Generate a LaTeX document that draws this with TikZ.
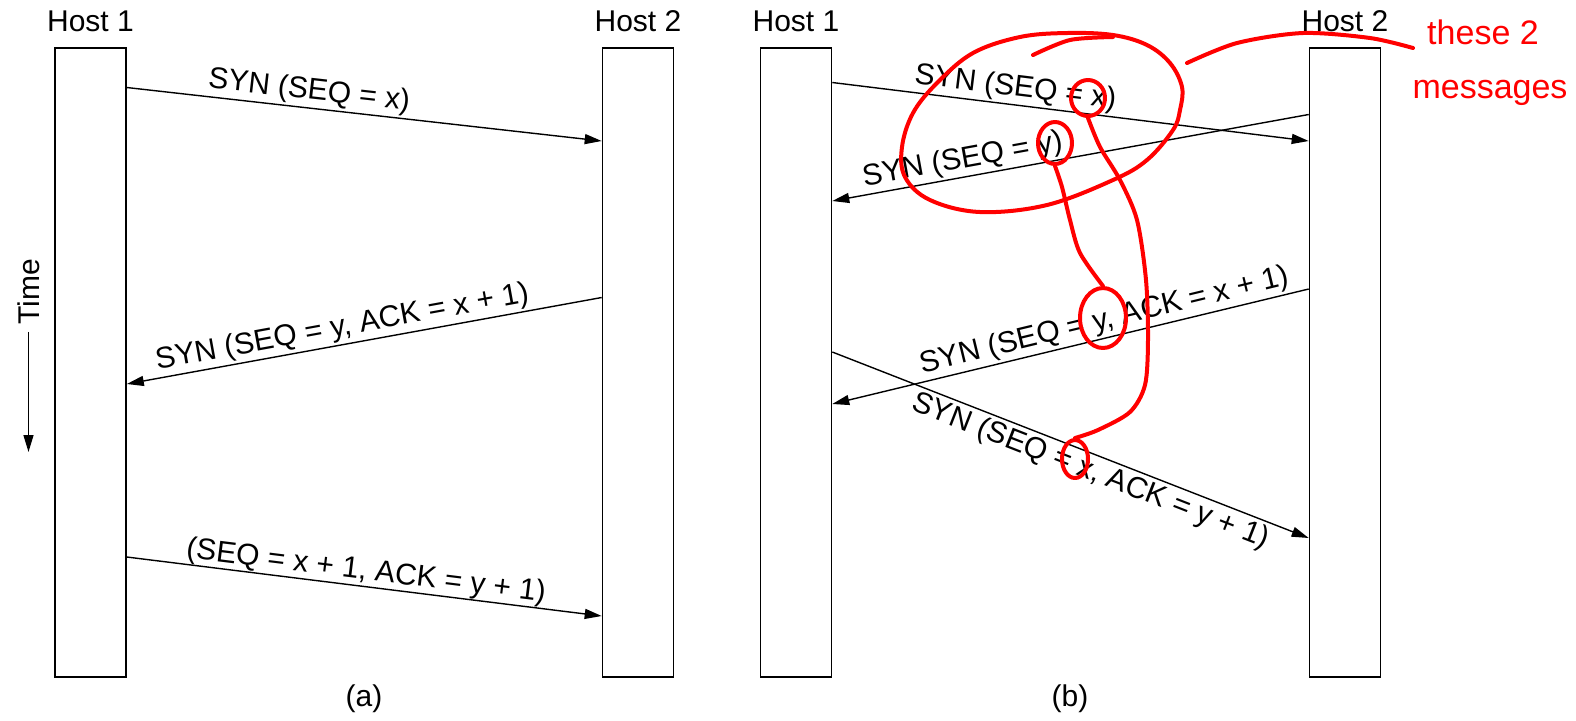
\documentclass[tikz,border=0pt]{standalone}
\usepackage{fontspec}
\setmainfont{Liberation Sans}
\usetikzlibrary{arrows.meta,positioning,shapes.geometric}

\begin{document}
\begin{tikzpicture}[
  x=0.5pt, y=-0.5pt,
  every node/.style={font=\fontsize{15}{18}\selectfont},
  host/.style={draw, line width=0.8pt, minimum width=35.5pt, minimum height=314.5pt, inner sep=0pt},
  hostlbl/.style={inner sep=0pt},
  arr/.style={-{Triangle[length=8.5pt,width=5pt]}, line width=0.7pt},
  lbl/.style={sloped, above, inner sep=1pt},
  lblb/.style={sloped, below, inner sep=1.5pt},
  ink/.style={red, line width=2pt, line cap=round, line join=round},
  ring/.style={ink, draw, ellipse, inner sep=0pt},
  note/.style={red, font=\fontsize{17}{20}\selectfont}
]
  \useasboundingbox (0,0) rectangle (1576,720);

  % (a) normal handshake
  \node[host] (a1) at (90.5,362.5) {};
  \node[host] (a2) at (638,362.5) {};
  \node[hostlbl, above=7.5pt of a1] (a1t) {Host 1};
  \node[hostlbl, above=7.5pt of a2] (a2t) {Host 2};
  \draw[arr] (a1.east |- 0,87.5) -- node[lbl, pos=.38] {SYN (SEQ = x)} (a2.west |- 0,141);
  \draw[arr] (a2.west |- 0,297.5) -- node[lbl, pos=.54] {SYN (SEQ = y, ACK = x + 1)} (a1.east |- 0,384);
  \draw[arr] (a1.east |- 0,557) -- node[lbl, pos=.5, inner sep=0pt] {(SEQ = x + 1, ACK = y + 1)} (a2.west |- 0,616);
  \node[rotate=90] (time) at (28.5,292) {Time};
  \coordinate (tend) at (28.5,452);
  \draw[arr] (time.west) -- (tend);
  \node (capa) at (364,699) {(a)};

  % (b) simultaneous open
  \node[host] (b1) at (796,362.5) {};
  \node[host] (b2) at (1345,362.5) {};
  \node[hostlbl, above=7.5pt of b1] (b1t) {Host 1};
  \node[hostlbl, above=7.5pt of b2] (b2t) {Host 2};
  \draw[arr] (b1.east |- 0,82.5) -- node[lbl, pos=.38] {SYN (SEQ = x)} (b2.west |- 0,141);
  \draw[arr] (b2.west |- 0,114.5) -- node[lbl, pos=.72] {SYN (SEQ = y)} (b1.east |- 0,201);
  \draw[arr] (b2.west |- 0,289) -- node[lbl, pos=.42] {SYN (SEQ = y, ACK = x + 1)} (b1.east |- 0,404);
  \draw[arr] (b1.east |- 0,352) -- node[lblb, pos=.555] {SYN (SEQ = x, ACK = y + 1)} (b2.west |- 0,538);
  \node (capb) at (1070,699) {(b)};

  % red pen notes
  \draw[ink] plot[smooth cycle, tension=0.6] coordinates {(1067,33) (1113,35) (1147,45) (1170,63) (1182,87) (1180,110) (1173,130) (1147,160) (1113,180) (1047,205) (980,212) (930,200) (905,177) (902,147) (913,113) (937,83) (973,53) (1020,37)};
  \draw[ink] plot[smooth] coordinates {(1033,55) (1070,40) (1113,37)};
  \node[ring, minimum width=17pt, minimum height=18pt] (cx) at (1088,98) {};
  \node[ring, minimum width=17pt, minimum height=21pt] (cy) at (1055,143) {};
  \node[ring, minimum width=23pt, minimum height=30pt] (cy2) at (1103,318) {};
  \node[ring, minimum width=13pt, minimum height=19pt] (cx2) at (1075,459) {};
  \draw[ink] plot[smooth] coordinates {(cx.south) (1100,147) (1120,180) (1137,220) (1146,280) (1148,340) (1145,385) (1130,412) (1098,430) (cx2.north)};
  \draw[ink] plot[smooth] coordinates {(cy.south) (1062,187) (1070,220) (1080,253) (cy2.north)};
  \draw[ink] plot[smooth] coordinates {(1187,63) (1237,43) (1303,33) (1370,38) (1413,48)};
  \node[note] (note1) at (1483,32) {these 2};
  \node[note] (note2) at (1490,93) {messages};
\end{tikzpicture}
\end{document}
